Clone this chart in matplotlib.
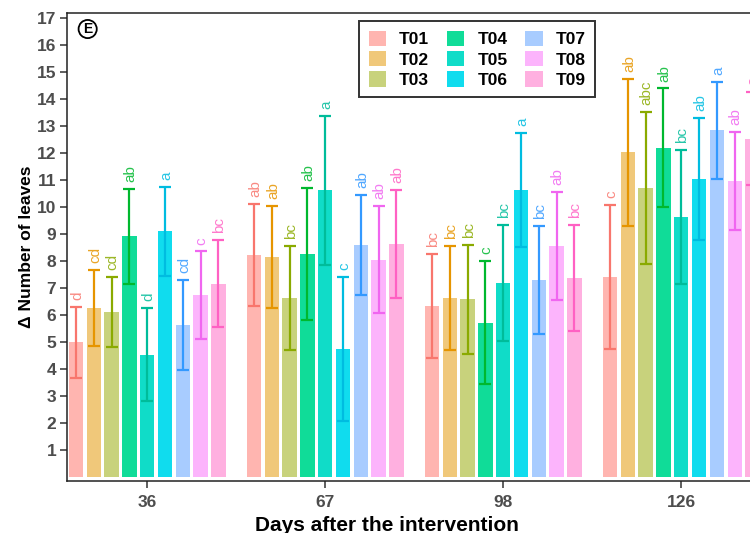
import matplotlib
matplotlib.use("Agg")
import matplotlib.pyplot as plt
from matplotlib.patches import Patch
import numpy as np

plt.rcParams['font.family'] = ['Liberation Sans', 'DejaVu Sans']

days = ["36", "67", "98", "126"]
treatments = ["T01", "T02", "T03", "T04", "T05", "T06", "T07", "T08", "T09"]

# mean values per treatment for each day
means_d36 = [4.99, 6.27, 6.12, 8.93, 4.54, 9.10, 5.63, 6.74, 7.16]
means_d67 = [8.22, 8.16, 6.64, 8.26, 10.63, 4.73, 8.59, 8.06, 8.63]
means_d98 = [6.35, 6.64, 6.58, 5.72, 7.19, 10.63, 7.30, 8.56, 7.38]
means_d126 = [7.42, 12.03, 10.72, 12.21, 9.64, 11.04, 12.85, 10.97, 12.54]

sd_d36 = [1.31, 1.40, 1.31, 1.76, 1.73, 1.65, 1.68, 1.62, 1.61]
sd_d67 = [1.90, 1.88, 1.92, 2.44, 2.76, 2.67, 1.86, 1.98, 2.00]
sd_d98 = [1.93, 1.92, 2.02, 2.27, 2.16, 2.11, 2.00, 1.99, 1.97]
sd_d126 = [2.68, 2.72, 2.82, 2.19, 2.49, 2.25, 1.80, 1.82, 1.72]

letters_d36 = ["d", "cd", "cd", "ab", "d", "a", "cd", "c", "bc"]
letters_d67 = ["ab", "ab", "bc", "ab", "a", "c", "ab", "ab", "ab"]
letters_d98 = ["bc", "bc", "bc", "c", "bc", "a", "bc", "ab", "bc"]
letters_d126 = ["c", "ab", "abc", "ab", "bc", "ab", "a", "ab", "a"]

fill_colors = ["#FFB5B0", "#F0C87A", "#C8D27C", "#10DC98", "#10DCC8",
               "#10DCEE", "#A8CCFF", "#FCB4FC", "#FFB0E0"]
line_colors = ["#F8766D", "#E69500", "#8AAA00", "#00B82E", "#00BC9A",
               "#00BCE0", "#3399FF", "#F066F0", "#FF61C3"]

means = [means_d36, means_d67, means_d98, means_d126]
sds = [sd_d36, sd_d67, sd_d98, sd_d126]
letters = [letters_d36, letters_d67, letters_d98, letters_d126]

fig = plt.figure(figsize=(7.5, 5.33), dpi=100)
ax = fig.add_axes([0.0897, 0.0981, 0.961, 0.8769])

step = 0.1
bw = 0.08
centers = np.arange(1, len(days) + 1)
for gi, c in enumerate(centers):
    for ti in range(len(treatments)):
        x = c + (ti - 4) * step
        m = means[gi][ti]
        s = sds[gi][ti]
        ax.bar(x, m, width=bw, color=fill_colors[ti], edgecolor='none', zorder=2)
        ax.errorbar(x, m, yerr=s, fmt='none', ecolor=line_colors[ti],
                    elinewidth=1.6, capsize=4.2, capthick=1.6, zorder=3)
        ax.annotate(letters[gi][ti], (x, m + s), xytext=(0.8, 5),
                    textcoords='offset points', rotation=90, ha='center',
                    va='bottom', fontsize=11, color=line_colors[ti], alpha=0.85,
                    zorder=4)

ax.set_xlim(0.551, 4.6)
ax.set_ylim(-0.137, 17.186)
ax.set_xticks(centers)
ax.set_xticklabels(days)
ax.set_yticks(np.arange(1, 18))

for sp in ax.spines.values():
    sp.set_color('#222222')
    sp.set_linewidth(1.1)

ax.tick_params(axis='both', length=5, width=1.1, color='#333333',
               labelcolor='#4D4D4D', labelsize=12.5)
ax.tick_params(axis='x', pad=5)
ax.tick_params(axis='y', pad=3)
for lab in ax.get_xticklabels() + ax.get_yticklabels():
    lab.set_fontweight('bold')

ax.set_ylabel("Δ Number of leaves", fontsize=12.5, fontweight='bold', color='black')
ax.yaxis.label.set_va('center')
ax.yaxis.set_label_coords(-0.0566, 0.5)
ax.set_xlabel("Days after the intervention", fontsize=15, fontweight='bold', color='black')
ax.xaxis.label.set_va('baseline')
ax.xaxis.set_label_coords(0.444, -0.1085)

ax.text(0.0283, 0.9664, "E", transform=ax.transAxes, ha='center', va='center',
        fontsize=10, fontweight='bold',
        bbox=dict(boxstyle='circle,pad=0.15', fc='white', ec='black', lw=1.3))

handles = [Patch(facecolor=fill_colors[i], edgecolor='none', label=treatments[i])
           for i in range(len(treatments))]
leg = ax.legend(handles=handles, ncol=3, loc='upper left',
                bbox_to_anchor=(0.4047, 0.9835), borderaxespad=0,
                fancybox=False, frameon=True, edgecolor='black',
                prop={'weight': 'bold', 'size': 12.5},
                handlelength=1.02, handleheight=1.02, handletextpad=0.75,
                columnspacing=1.0, labelspacing=0.19, borderpad=0.55)
leg.get_frame().set_linewidth(1.4)

fig.savefig("out.png", dpi=100)
